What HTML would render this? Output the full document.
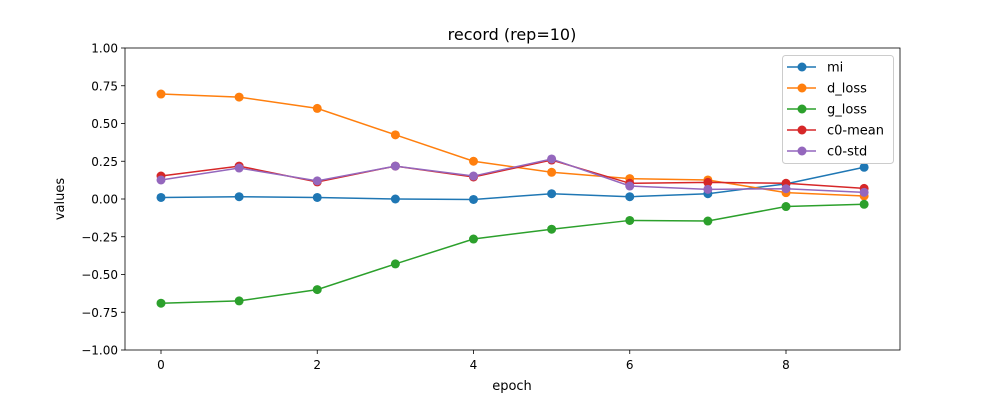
<!DOCTYPE html>
<html><head><meta charset="utf-8"><style>
body{margin:0;background:#fff;}
svg{display:block;font-family:"DejaVu Sans","Liberation Sans",sans-serif;}
</style></head><body>
<svg id="chart" width="1000" height="400"></svg>
<script>
const epochs=[0,1,2,3,4,5,6,7,8,9];
const seriesNames=["mi","d_loss","g_loss","c0-mean","c0-std"];
const mi=[0.01,0.015,0.01,0.0,-0.003,0.035,0.015,0.035,0.10,0.21];
const dLoss=[0.695,0.675,0.60,0.425,0.25,0.177,0.135,0.126,0.042,0.02];
const gLoss=[-0.69,-0.675,-0.60,-0.43,-0.265,-0.20,-0.142,-0.146,-0.05,-0.035];
const c0Mean=[0.152,0.218,0.113,0.218,0.146,0.258,0.104,0.11,0.104,0.07];
const c0Std=[0.126,0.205,0.12,0.218,0.152,0.265,0.086,0.064,0.068,0.044];
const xTicks=[0,2,4,6,8];
const yTicks=[1.00,0.75,0.50,0.25,0.00,-0.25,-0.50,-0.75,-1.00];
const colors=["#1f77b4","#ff7f0e","#2ca02c","#d62728","#9467bd"];
const allSeries=[mi,dLoss,gLoss,c0Mean,c0Std];

const L=125,R=900,T=48,B=350;
const xS=v=>161+(v-0)*(786-161)/8;
const yS=v=>B-(v+1)/2*(B-T);
const svg=document.getElementById('chart');
const NS="http://www.w3.org/2000/svg";
function mk(tag,attrs,parent){const e=document.createElementNS(NS,tag);for(const k in attrs)e.setAttribute(k,attrs[k]);(parent||svg).appendChild(e);return e;}

const title=mk('text',{x:512,y:40,'text-anchor':'middle','font-size':16,fill:'#000'});
title.textContent="record (rep=10)";



xTicks.forEach(t=>{
  const tk=mk('line',{x1:xS(t),x2:xS(t),y1:B,y2:B+4,stroke:'#000','stroke-width':0.8});
  
  
  const tx=mk('text',{x:xS(t),y:B+19,'text-anchor':'middle','font-size':12,fill:'#000'});
  tx.textContent=t;
  
  
});
yTicks.forEach(t=>{
  const tk=mk('line',{x1:L-4,x2:L,y1:yS(t),y2:yS(t),stroke:'#000','stroke-width':0.8});
  
  
  const tx=mk('text',{x:L-7,y:yS(t)+4.5,'text-anchor':'end','font-size':12,fill:'#000'});
  tx.textContent=t.toFixed(2).replace('-','\u2212');
  
  
});
const xl=mk('text',{x:512,y:390,'text-anchor':'middle','font-size':13,fill:'#000'});
xl.textContent="epoch";


const yl=mk('text',{x:64,y:199,'text-anchor':'middle','font-size':13,fill:'#000',transform:'rotate(-90 64 199)'});
yl.textContent="values";



allSeries.forEach((s,i)=>{
  const g=mk('g',{});
  
  
  const pts=s.map((v,j)=>xS(epochs[j])+','+yS(v)).join(' ');
  const pl=mk('polyline',{points:pts,fill:'none',stroke:colors[i],'stroke-width':1.5},g);
  
  
  s.forEach((v,j)=>{
    const c=mk('circle',{cx:xS(epochs[j]),cy:yS(v),r:4.5,fill:colors[i]},g);
    
    
  });
});

const frame=mk('rect',{x:L,y:T,width:R-L,height:B-T,fill:'none',stroke:'#000','stroke-width':0.8});



const lg=mk('g',{});


mk('rect',{x:782.5,y:55.5,width:111,height:108,rx:3,fill:'#fff','fill-opacity':0.8,stroke:'#ccc'},lg);
seriesNames.forEach((n,i)=>{
  const y=67+i*21;
  const e=mk('g',{},lg);
  
  
  mk('line',{x1:787,x2:816,y1:y,y2:y,stroke:colors[i],'stroke-width':1.5},e);
  mk('circle',{cx:802,cy:y,r:4.5,fill:colors[i]},e);
  const t=mk('text',{x:827,y:y+4.5,'font-size':13,fill:'#000'},e);
  t.textContent=n;
});
</script>
</body></html>
